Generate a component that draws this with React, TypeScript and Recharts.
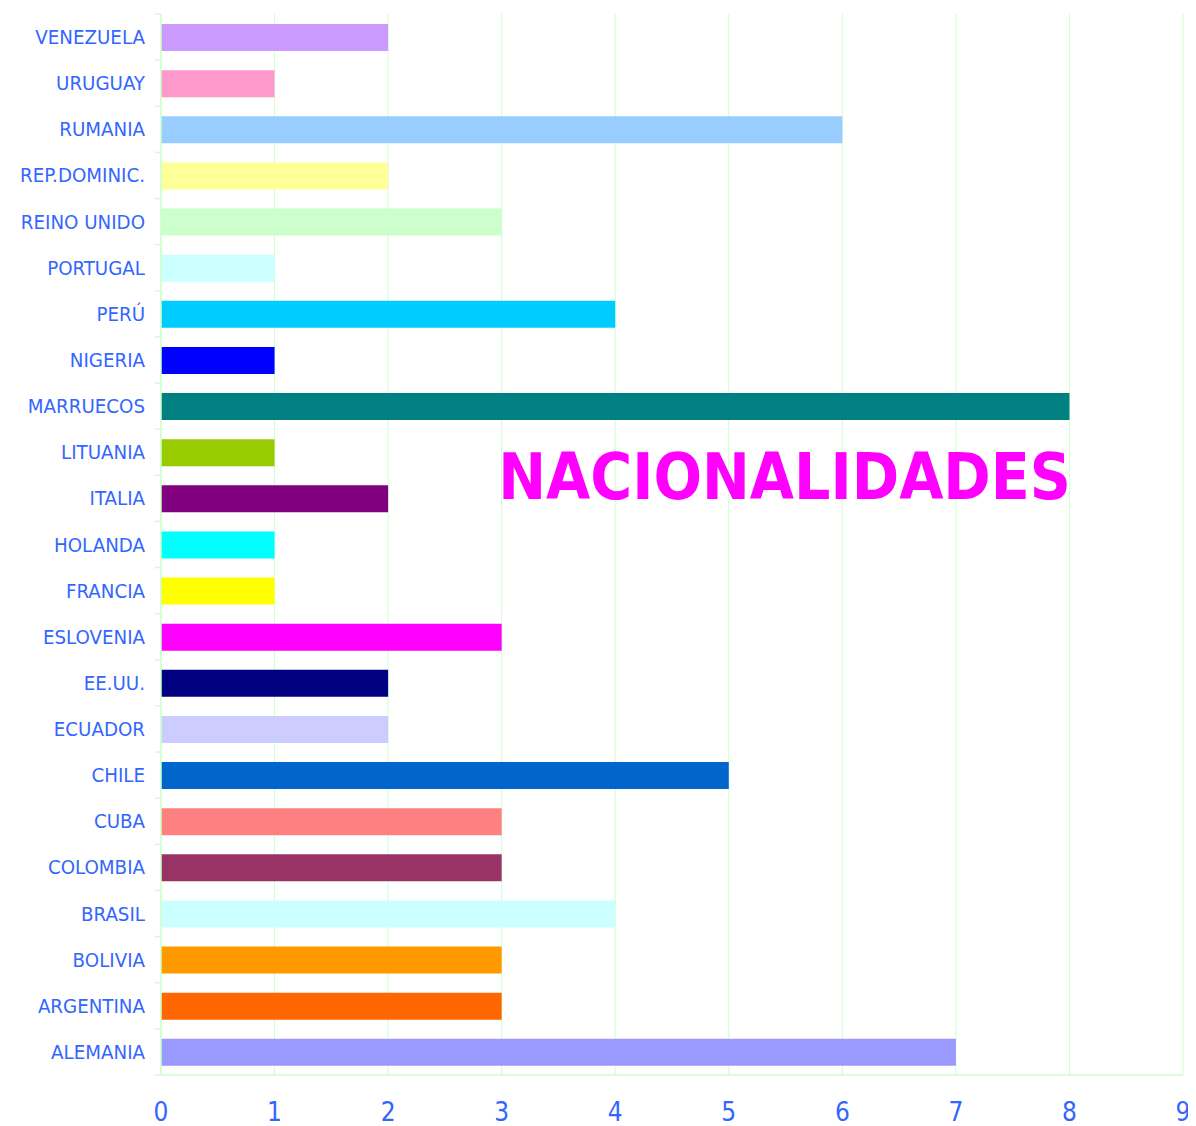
import React from "react";
import { BarChart, Bar, XAxis, YAxis, CartesianGrid, Cell } from "recharts";

const categories = [
  "ALEMANIA", "ARGENTINA", "BOLIVIA", "BRASIL", "COLOMBIA", "CUBA", "CHILE", "ECUADOR",
  "EE.UU.", "ESLOVENIA", "FRANCIA", "HOLANDA", "ITALIA", "LITUANIA", "MARRUECOS", "NIGERIA",
  "PERÚ", "PORTUGAL", "REINO UNIDO", "REP.DOMINIC.", "RUMANIA", "URUGUAY", "VENEZUELA",
];
const values = [7, 3, 3, 4, 3, 3, 5, 2, 2, 3, 1, 1, 2, 1, 8, 1, 4, 1, 3, 2, 6, 1, 2];
const colors = [
  "#9999ff", "#ff6600", "#ff9900", "#ccffff", "#993366", "#ff8080", "#0066cc", "#ccccff",
  "#000080", "#ff00ff", "#ffff00", "#00ffff", "#800080", "#99cc00", "#008080", "#0000ff",
  "#00ccff", "#ccffff", "#ccffcc", "#ffff99", "#99ccff", "#ff99cc", "#cc99ff",
];
const xTicks = [0, 1, 2, 3, 4, 5, 6, 7, 8, 9];
const title = "NACIONALIDADES";

const data = categories.map((c, i) => ({ name: c, value: values[i] }));

const FONT = "'DejaVu Sans Condensed', 'DejaVu Sans', sans-serif";
const LABEL = "#3366ff";
const AXIS = "#ccffcc";
const TICK_SIZE = 6;
const TICK_MARGIN = 10;

const YTick = (props: any) => {
  const { x, y, payload, index } = props;
  const off = payload.offset || 0;
  const ax = x + TICK_MARGIN;
  return (
    <g>
      <line x1={ax} x2={ax + TICK_SIZE} y1={y - off} y2={y - off} stroke={AXIS} strokeWidth={1.5} />
      {index === 0 && (
        <line x1={ax} x2={ax + TICK_SIZE} y1={y + off} y2={y + off} stroke={AXIS} strokeWidth={1.5} />
      )}
      <text x={x} y={y} dy={7} textAnchor="end" fill={LABEL} fontSize={20.3} fontFamily={FONT}>
        {payload.value}
      </text>
    </g>
  );
};

export default function App() {
  return (
    <div style={{ position: "relative", width: 1188, height: 1118 }}>
      <BarChart
        width={1188}
        height={1118}
        data={data}
        layout="vertical"
        margin={{ top: 6, right: 13, bottom: 0, left: 0 }}
      >
        <CartesianGrid horizontal={false} vertical={true} stroke={AXIS} strokeWidth={1} />
        <XAxis
          type="number"
          domain={[0, 9]}
          ticks={xTicks}
          interval={0}
          height={51}
          tickLine={false}
          axisLine={{ stroke: AXIS, strokeWidth: 1.5 }}
          tickMargin={22}
          tick={{ fill: LABEL, fontSize: 26, fontFamily: FONT }}
        />
        <YAxis
          type="category"
          dataKey="name"
          reversed
          width={153}
          interval={0}
          tickLine={false}
          tickSize={TICK_SIZE}
          tickMargin={TICK_MARGIN}
          axisLine={{ stroke: AXIS, strokeWidth: 1.5 }}
          tick={<YTick />}
        />
        <Bar dataKey="value" barSize={27} isAnimationActive={false}>
          {data.map((d, i) => (
            <Cell key={d.name} fill={colors[i]} />
          ))}
        </Bar>
      </BarChart>
      <svg
        width={1188}
        height={1118}
        style={{ position: "absolute", left: 0, top: 0, pointerEvents: "none" }}
      >
        <text
          x={1063}
          y={491}
          textAnchor="end"
          fill="#ff00ff"
          fontSize={63.5}
          fontWeight="bold"
          fontFamily={FONT}
        >
          {title}
        </text>
      </svg>
    </div>
  );
}
